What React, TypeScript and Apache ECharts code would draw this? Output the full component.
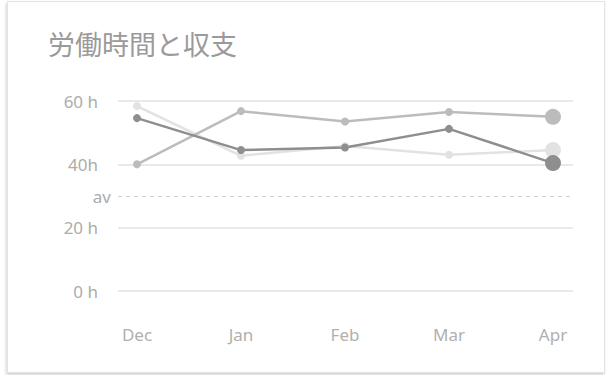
import React, { useEffect, useRef } from "react";
import * as echarts from "echarts";

const title = "労働時間と収支";
const months = ["Dec", "Jan", "Feb", "Mar", "Apr"];
const seriesLight = [58.4, 42.7, 45.8, 43, 44.5];
const seriesMid = [40, 56.8, 53.5, 56.5, 55];
const seriesDark = [54.6, 44.5, 45.3, 51.2, 40.4];
const yTicks: Record<number, string> = { 0: "0 h", 20: "20 h", 40: "40h", 60: "60 h" };
const avValue = 30;
const avLabel = "av";

const FONT = "'Noto Sans', 'Noto Sans CJK JP', sans-serif";

function withEndDot(values: number[]) {
  return values.map((v, i) =>
    i === values.length - 1 ? { value: v, symbolSize: 16 } : v
  );
}

export default function App() {
  const ref = useRef<HTMLDivElement>(null);
  useEffect(() => {
    if (!ref.current) return;
    const chart = echarts.init(ref.current, undefined, { renderer: "svg" });
    const mkSeries = (name: string, data: number[], color: string) => ({
      name,
      type: "line",
      xAxisIndex: 1,
      yAxisIndex: 1,
      data: withEndDot(data),
      symbol: "circle",
      symbolSize: 8,
      lineStyle: { color, width: 2.5 },
      itemStyle: { color },
      emphasis: { disabled: true },
    });
    chart.setOption({
      animation: false,
      title: {
        text: title,
        left: 43,
        top: 26,
        textStyle: { fontFamily: FONT, fontSize: 27, fontWeight: "normal", color: "#9a9a9a" },
      },
      grid: [
        { left: 118, right: 35, top: 101, bottom: 84 },
        { left: 137, right: 55, top: 101, bottom: 84 },
      ],
      xAxis: [
        { type: "category", gridIndex: 0, data: months, show: false },
        {
          type: "category",
          gridIndex: 1,
          data: months,
          boundaryGap: false,
          axisLine: { show: false },
          axisTick: { show: false },
          splitLine: { show: false },
          axisLabel: { margin: 35, fontFamily: FONT, fontSize: 17, color: "#b0b0b0" },
        },
      ],
      yAxis: [
        {
          type: "value",
          gridIndex: 0,
          min: 0,
          max: 60,
          interval: 20,
          axisLine: { show: false },
          axisTick: { show: false },
          splitLine: { lineStyle: { color: "#e2e2e2", width: 1.5 } },
          axisLabel: {
            margin: 20,
            fontFamily: FONT,
            fontSize: 17,
            color: "#acacac",
            formatter: (v: number) => yTicks[v] ?? "",
          },
        },
        { type: "value", gridIndex: 1, min: 0, max: 60, show: false },
      ],
      series: [
        {
          type: "line",
          xAxisIndex: 0,
          yAxisIndex: 0,
          data: [],
          markLine: {
            silent: true,
            symbol: "none",
            lineStyle: { type: [4, 4], color: "#cfcfcf", width: 1 },
            label: {
              position: "start",
              distance: 7,
              formatter: avLabel,
              fontFamily: FONT,
              fontSize: 17,
              color: "#acacac",
            },
            data: [{ yAxis: avValue }],
          },
        },
        mkSeries("light", seriesLight, "#e2e2e2"),
        mkSeries("mid", seriesMid, "#bcbcbc"),
        mkSeries("dark", seriesDark, "#8e8e8e"),
      ],
    });
    return () => chart.dispose();
  }, []);
  return (
    <div style={{ position: "fixed", left: 0, top: 0, width: 608, height: 375, background: "#fff" }}>
      <div
        style={{
          position: "absolute",
          left: 7,
          top: 1,
          width: 596,
          height: 370,
          border: "1px solid #e4e4e4",
          boxShadow: "-1px 2px 3px rgba(0,0,0,0.18)",
          background: "#fff",
        }}
      />
      <div ref={ref} style={{ position: "absolute", left: 0, top: 0, width: 608, height: 375 }} />
    </div>
  );
}
